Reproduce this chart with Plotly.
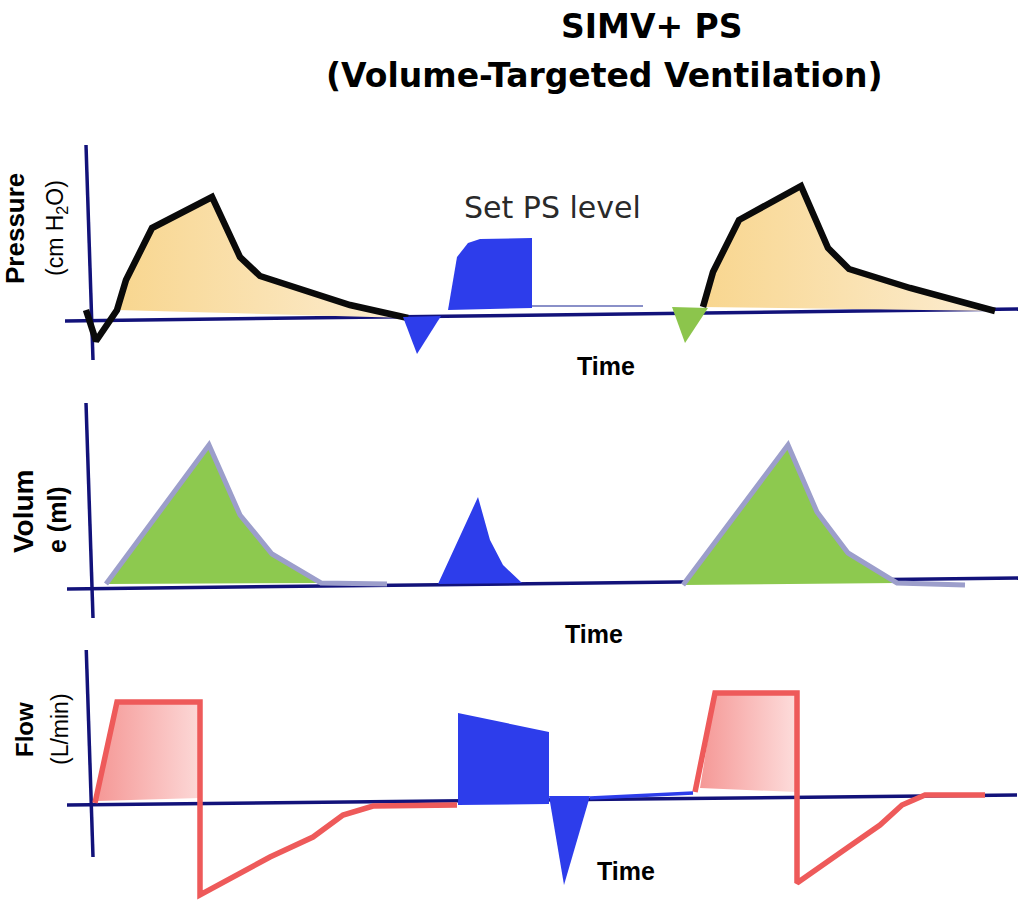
import plotly.graph_objects as go

# ---------------- data (time in arbitrary units, signal in arbitrary units above baseline) -------------
# Pressure panel
p_axis_t = [65, 1018]
p_axis_v = [-1, 11]
p_yaxis_t = [86, 93]
p_yaxis_v = [175, -40]
p_mand1_t = [86, 96, 117, 126, 152, 212, 240, 260, 350, 408]
p_mand1_v = [10, -21, 10, 40, 92, 123, 63, 44, 15, 2]
p_mand2_t = [703, 713, 739, 801, 828, 849, 910, 995]
p_mand2_v = [13, 48, 100, 134, 72, 51, 32, 9]
p_trig1_t = [403, 441, 417]
p_trig1_v = [3, 4, -34]
p_ps_t = [448, 457, 468, 480, 532, 532]
p_ps_v = [10, 63, 77, 81, 82, 12]
p_ps_tail_t = [532, 643]
p_ps_tail_v = [14, 14]
p_trig2_t = [672, 708, 685]
p_trig2_v = [13, 12, -23]

# Volume panel
v_axis_t = [67, 1018]
v_axis_v = [0, 11]
v_yaxis_t = [86, 93]
v_yaxis_v = [186, -29]
v_mand1_t = [106, 209, 240, 272, 321, 387]
v_mand1_v = [5, 144, 74, 35, 6, 5]
v_spont_t = [438, 478, 490, 503, 522]
v_spont_v = [5, 92, 49, 24, 6]
v_mand2_t = [683, 788, 817, 848, 897, 965]
v_mand2_v = [4, 144, 77, 36, 6, 4]

# Flow panel
f_axis_t = [67, 1017]
f_axis_v = [0, 10]
f_yaxis_t = [86, 93]
f_yaxis_v = [163, -52]
f_mand1_t = [95, 117, 200, 200, 270, 313, 343, 373, 457]
f_mand1_v = [2, 103, 103, -90, -52, -32, -10, -1, 0]
f_fill1_t = [97, 117, 200, 200]
f_fill1_v = [4, 101, 101, 7]
f_spont_t = [458, 458, 549, 549]
f_spont_v = [0, 92, 73, 1]
f_spont_exp_t = [549, 590, 564]
f_spont_exp_v = [9, 9, -80]
f_spont_tail_t = [590, 693]
f_spont_tail_v = [7, 12]
f_mand2_t = [695, 715, 797, 797, 847, 880, 902, 925, 985]
f_mand2_v = [13, 112, 112, -78, -43, -20, 0, 10, 10]
f_fill2_t = [700, 715, 797, 797]
f_fill2_v = [17, 110, 110, 13]

title_lines = ["SIMV+ PS", "(Volume-Targeted Ventilation)"]

# ---------------- styles ----------------
W, H = 1024, 902
NAVY = "#12127A"
BLUE = "#2D3DEB"
GREEN = "#8DC94F"
LAV = "#9C9ECB"
RED = "#EE5A5A"

# panel pixel extents: (top, bottom, baseline)
panels = {"y": (130, 385, 320), "y2": (385, 650, 589), "y3": (650, 902, 805)}

fig = go.Figure()


def line(t, v, ax, color, width):
    fig.add_trace(go.Scatter(x=t, y=v, yaxis=ax, mode="lines",
                             line=dict(color=color, width=width),
                             showlegend=False, hoverinfo="skip"))


def poly(t, v, ax, color=None, grad=None):
    kw = dict(x=t, y=v, yaxis=ax, mode="lines", fill="toself",
              line=dict(width=0, color="rgba(0,0,0,0)"),
              showlegend=False, hoverinfo="skip")
    if grad:
        kw["fillgradient"] = dict(type="horizontal", colorscale=[[0, grad[0]], [1, grad[1]]])
    else:
        kw["fillcolor"] = color
    fig.add_trace(go.Scatter(**kw))


# axes
for ax, (at, av, yt, yv) in {"y": (p_axis_t, p_axis_v, p_yaxis_t, p_yaxis_v),
                             "y2": (v_axis_t, v_axis_v, v_yaxis_t, v_yaxis_v),
                             "y3": (f_axis_t, f_axis_v, f_yaxis_t, f_yaxis_v)}.items():
    line(at, av, ax, NAVY, 3.5)
    line(yt, yv, ax, NAVY, 3.5)

# pressure
ORANGE_GRAD = ("#F8D68F", "#FCEDD2")
poly(p_mand1_t[2:], p_mand1_v[2:], "y", grad=ORANGE_GRAD)
poly(p_mand2_t, p_mand2_v, "y", grad=ORANGE_GRAD)
line(p_mand1_t, p_mand1_v, "y", "#0A0A0A", 6.5)
line(p_mand2_t, p_mand2_v, "y", "#0A0A0A", 6.5)
poly(p_trig1_t, p_trig1_v, "y", BLUE)
poly(p_ps_t, p_ps_v, "y", BLUE)
line(p_ps_tail_t, p_ps_tail_v, "y", "#8A90C8", 2)
poly(p_trig2_t, p_trig2_v, "y", "#8CC54C")

# volume
poly(v_mand1_t[:5], v_mand1_v[:5], "y2", GREEN)
poly(v_mand2_t[:5], v_mand2_v[:5], "y2", GREEN)
line(v_mand1_t, v_mand1_v, "y2", LAV, 5)
line(v_mand2_t, v_mand2_v, "y2", LAV, 5)
poly(v_spont_t, v_spont_v, "y2", BLUE)

# flow
poly(f_fill1_t, f_fill1_v, "y3", grad=("#F59896", "#FCD8D7"))
poly(f_fill2_t, f_fill2_v, "y3", grad=("#F59896", "#FDDDDC"))
line(f_mand1_t, f_mand1_v, "y3", RED, 5.5)
line(f_mand2_t, f_mand2_v, "y3", RED, 5.5)
poly(f_spont_t, f_spont_v, "y3", BLUE)
poly(f_spont_exp_t, f_spont_exp_v, "y3", BLUE)
line(f_spont_tail_t, f_spont_tail_v, "y3", BLUE, 3.5)

# layout axes
layout_axes = {}
for ax, (top, bot, base) in panels.items():
    name = "yaxis" if ax == "y" else "yaxis" + ax[1:]
    layout_axes[name] = dict(domain=[1 - bot / H, 1 - top / H], range=[base - bot, base - top],
                             visible=False, anchor="x", fixedrange=True)

fig.update_layout(
    width=W, height=H, margin=dict(l=0, r=0, t=0, b=0),
    paper_bgcolor="white", plot_bgcolor="white",
    xaxis=dict(range=[0, W], domain=[0, 1], visible=False, fixedrange=True),
    **layout_axes,
)


def pann(text, px, py, size, bold=True, family="Liberation Sans", angle=0, color="#000"):
    fig.add_annotation(text=f"<b>{text}</b>" if bold else text, x=px / W, y=1 - py / H,
                       xref="paper", yref="paper", showarrow=False, textangle=angle,
                       xanchor="center", yanchor="middle",
                       font=dict(family=family, size=size, color=color))


def dann(text, t, v, ax, size, bold=True, family="Liberation Sans", color="#000"):
    fig.add_annotation(text=f"<b>{text}</b>" if bold else text, x=t, y=v, xref="x", yref=ax,
                       showarrow=False, xanchor="center", yanchor="middle",
                       font=dict(family=family, size=size, color=color))


# titles
pann(title_lines[0], 652, 27, 33, family="DejaVu Sans")
pann(title_lines[1], 604, 76, 33, family="DejaVu Sans")

# side labels
pann("Pressure", 15, 229, 26, angle=-90)
pann("(cm H<sub>2</sub>O)", 57, 228, 23, bold=False, angle=-90)
pann("Volum", 23, 512, 28, angle=-90)
pann("e (ml)", 57, 520, 25, angle=-90)
pann("Flow", 24, 730, 24, angle=-90)
pann("(L/min)", 60, 729, 23, bold=False, angle=-90)

# in-panel labels
dann("Set PS level", 552, 113, "y", 30, bold=False, family="DejaVu Sans", color="#2a2a2a")
dann("Time", 606, -46, "y", 25)
dann("Time", 594, -45, "y2", 25)
dann("Time", 626, -66, "y3", 25)

fig.write_html("out.html")
